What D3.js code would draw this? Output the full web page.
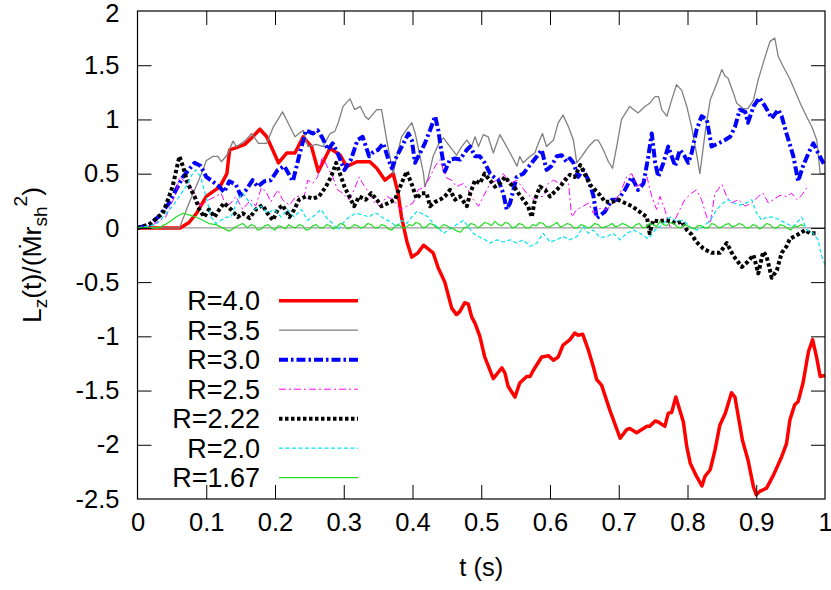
<!DOCTYPE html>
<html><head><meta charset="utf-8">
<script src="https://cdn.jsdelivr.net/npm/d3@7"></script>
<style>
html,body{margin:0;padding:0;background:#fff;}
text{font-family:"Liberation Sans",Arial,Helvetica,sans-serif;}
</style></head>
<body><svg id="chart" width="831" height="590"></svg>
<script>
// ---- data ----
const xTicks = [0,0.1,0.2,0.3,0.4,0.5,0.6,0.7,0.8,0.9,1];
const xTickLabels = ["0","0.1","0.2","0.3","0.4","0.5","0.6","0.7","0.8","0.9","1"];
const yTicks = [2,1.5,1,0.5,0,-0.5,-1,-1.5,-2,-2.5];
const yTickLabels = ["2","1.5","1","0.5","0","-0.5","-1","-1.5","-2","-2.5"];
const seriesNames = ["R=4.0","R=3.5","R=3.0","R=2.5","R=2.22","R=2.0","R=1.67"];

const r40 = [[0,0],[0.03,0],[0.062,0],[0.075,0.05],[0.086,0.135],[0.1,0.29],[0.12,0.38],[0.13,0.5],[0.134,0.72],[0.144,0.74],[0.156,0.77],[0.166,0.83],[0.178,0.91],[0.188,0.84],[0.205,0.60],[0.217,0.69],[0.229,0.69],[0.241,0.84],[0.253,0.75],[0.263,0.52],[0.28,0.735],[0.295,0.67],[0.304,0.565],[0.319,0.61],[0.338,0.61],[0.348,0.55],[0.36,0.44],[0.372,0.50],[0.379,0.32],[0.384,0.10],[0.392,-0.13],[0.399,-0.27],[0.408,-0.23],[0.416,-0.16],[0.43,-0.23],[0.4375,-0.37],[0.447,-0.50],[0.457,-0.74],[0.464,-0.80],[0.469,-0.77],[0.476,-0.69],[0.481,-0.70],[0.486,-0.82],[0.491,-0.88],[0.498,-1.00],[0.505,-1.19],[0.5175,-1.39],[0.53,-1.29],[0.5345,-1.34],[0.539,-1.46],[0.549,-1.56],[0.556,-1.43],[0.566,-1.37],[0.571,-1.37],[0.576,-1.31],[0.588,-1.19],[0.598,-1.18],[0.605,-1.22],[0.612,-1.19],[0.619,-1.08],[0.629,-1.03],[0.636,-0.97],[0.641,-0.99],[0.6475,-0.98],[0.656,-1.13],[0.663,-1.28],[0.668,-1.40],[0.675,-1.45],[0.687,-1.68],[0.702,-1.94],[0.7115,-1.86],[0.716,-1.85],[0.726,-1.89],[0.741,-1.83],[0.745,-1.83],[0.753,-1.78],[0.7575,-1.79],[0.767,-1.83],[0.772,-1.71],[0.777,-1.70],[0.783,-1.56],[0.794,-1.79],[0.799,-2.02],[0.804,-2.17],[0.813,-2.29],[0.821,-2.38],[0.8255,-2.29],[0.833,-2.23],[0.84,-2.05],[0.847,-1.82],[0.855,-1.71],[0.864,-1.52],[0.869,-1.56],[0.88,-1.96],[0.888,-2.14],[0.896,-2.39],[0.90,-2.46],[0.905,-2.43],[0.915,-2.40],[0.925,-2.28],[0.937,-2.11],[0.944,-1.99],[0.949,-1.77],[0.956,-1.63],[0.961,-1.60],[0.968,-1.43],[0.976,-1.14],[0.982,-1.03],[0.988,-1.20],[0.993,-1.37],[1.0,-1.36]];

const r35 = [[0,0],[0.061,0],[0.075,0.23],[0.095,0.53],[0.1,0.62],[0.11,0.66],[0.117,0.66],[0.122,0.61],[0.13,0.67],[0.139,0.80],[0.144,0.75],[0.156,0.80],[0.166,0.87],[0.176,0.78],[0.188,0.78],[0.1975,0.93],[0.211,1.07],[0.222,0.93],[0.229,0.84],[0.241,0.90],[0.248,0.75],[0.26,0.77],[0.27,0.75],[0.28,0.87],[0.287,0.89],[0.292,0.97],[0.299,1.12],[0.309,1.19],[0.316,1.09],[0.324,1.12],[0.331,1.03],[0.336,1.0],[0.348,1.09],[0.355,1.09],[0.3625,0.81],[0.372,0.50],[0.377,0.66],[0.384,0.84],[0.394,0.93],[0.399,0.97],[0.404,0.87],[0.408,0.75],[0.416,0.50],[0.418,0.38],[0.423,0.47],[0.43,0.66],[0.44,0.80],[0.445,0.83],[0.4545,0.75],[0.464,0.67],[0.4715,0.75],[0.479,0.81],[0.486,0.75],[0.491,0.84],[0.496,0.75],[0.503,0.86],[0.51,0.84],[0.5175,0.69],[0.527,0.86],[0.537,0.75],[0.547,0.63],[0.552,0.57],[0.556,0.66],[0.561,0.60],[0.571,0.66],[0.578,0.69],[0.583,0.78],[0.589,0.87],[0.595,0.75],[0.605,0.81],[0.612,0.97],[0.619,1.04],[0.627,0.93],[0.634,0.81],[0.639,0.60],[0.646,0.66],[0.656,0.75],[0.6655,0.81],[0.670,0.81],[0.6775,0.72],[0.685,0.61],[0.691,0.55],[0.697,0.75],[0.704,1.0],[0.716,1.12],[0.728,1.06],[0.738,1.12],[0.745,1.15],[0.753,1.21],[0.758,1.21],[0.7625,1.09],[0.77,1.03],[0.777,1.18],[0.784,1.32],[0.7915,1.27],[0.799,1.12],[0.806,0.93],[0.813,0.69],[0.818,0.50],[0.8255,0.87],[0.833,1.18],[0.8425,1.33],[0.85,1.46],[0.8545,1.40],[0.859,1.38],[0.867,1.24],[0.8715,1.15],[0.881,1.10],[0.888,1.10],[0.896,1.18],[0.903,1.37],[0.913,1.58],[0.92,1.72],[0.927,1.75],[0.932,1.58],[0.939,1.49],[0.949,1.37],[0.956,1.27],[0.964,1.15],[0.973,1.03],[0.981,0.93],[0.988,0.81],[0.993,0.50],[1.0,0.50]];

const r30 = [[0,0],[0.017,0.03],[0.03,0.1],[0.046,0.23],[0.066,0.47],[0.083,0.60],[0.092,0.57],[0.1,0.47],[0.109,0.43],[0.119,0.38],[0.126,0.33],[0.1335,0.43],[0.143,0.40],[0.15,0.30],[0.158,0.35],[0.1675,0.44],[0.175,0.38],[0.1845,0.43],[0.194,0.44],[0.204,0.535],[0.2135,0.57],[0.226,0.43],[0.235,0.66],[0.245,0.90],[0.255,0.87],[0.262,0.90],[0.269,0.83],[0.277,0.72],[0.284,0.78],[0.291,0.69],[0.301,0.535],[0.3105,0.63],[0.32,0.81],[0.3275,0.84],[0.337,0.66],[0.343,0.70],[0.35,0.72],[0.3575,0.78],[0.365,0.63],[0.37,0.55],[0.377,0.66],[0.387,0.78],[0.394,0.87],[0.399,0.81],[0.4036,0.60],[0.411,0.69],[0.418,0.78],[0.4255,0.90],[0.433,1.03],[0.4375,0.90],[0.4425,0.69],[0.447,0.52],[0.4545,0.63],[0.462,0.64],[0.469,0.63],[0.479,0.72],[0.484,0.75],[0.491,0.66],[0.498,0.66],[0.505,0.60],[0.513,0.50],[0.52,0.46],[0.525,0.44],[0.532,0.32],[0.537,0.17],[0.542,0.23],[0.5515,0.47],[0.561,0.50],[0.571,0.58],[0.581,0.66],[0.588,0.72],[0.595,0.535],[0.602,0.57],[0.61,0.66],[0.617,0.67],[0.624,0.61],[0.629,0.64],[0.634,0.60],[0.641,0.47],[0.6485,0.535],[0.656,0.44],[0.663,0.30],[0.668,0.09],[0.68,0.15],[0.69,0.26],[0.699,0.26],[0.709,0.35],[0.719,0.47],[0.728,0.35],[0.736,0.41],[0.743,0.66],[0.748,0.87],[0.753,0.60],[0.7575,0.47],[0.765,0.60],[0.772,0.75],[0.782,0.57],[0.789,0.72],[0.796,0.66],[0.801,0.60],[0.806,0.69],[0.813,0.90],[0.8205,1.03],[0.828,1.0],[0.835,0.75],[0.845,0.78],[0.8545,0.81],[0.862,0.84],[0.869,0.93],[0.876,1.09],[0.884,1.07],[0.888,0.97],[0.896,1.12],[0.9045,1.20],[0.913,1.12],[0.9225,1.01],[0.932,1.09],[0.937,1.03],[0.944,0.87],[0.954,0.66],[0.961,0.43],[0.968,0.57],[0.976,0.69],[0.983,0.78],[0.99,0.69],[1.0,0.57]];

const r25 = [[0,0],[0.02,0.02],[0.041,0.10],[0.056,0.32],[0.061,0.47],[0.068,0.43],[0.075,0.40],[0.085,0.29],[0.092,0.20],[0.104,0.26],[0.114,0.29],[0.1215,0.32],[0.129,0.20],[0.136,0.23],[0.143,0.29],[0.153,0.17],[0.165,0.26],[0.172,0.20],[0.18,0.37],[0.187,0.335],[0.194,0.24],[0.204,0.35],[0.211,0.26],[0.221,0.21],[0.2305,0.29],[0.2425,0.29],[0.2475,0.44],[0.255,0.41],[0.262,0.47],[0.269,0.66],[0.277,0.55],[0.284,0.47],[0.291,0.35],[0.2985,0.32],[0.308,0.26],[0.315,0.35],[0.3225,0.47],[0.3275,0.41],[0.337,0.32],[0.345,0.23],[0.3527,0.20],[0.3625,0.29],[0.372,0.26],[0.382,0.17],[0.3915,0.20],[0.401,0.23],[0.408,0.35],[0.418,0.38],[0.4255,0.47],[0.433,0.57],[0.44,0.63],[0.445,0.535],[0.45,0.46],[0.457,0.44],[0.464,0.38],[0.474,0.41],[0.481,0.35],[0.4885,0.26],[0.496,0.20],[0.503,0.29],[0.513,0.41],[0.5225,0.44],[0.532,0.50],[0.542,0.41],[0.5515,0.44],[0.559,0.38],[0.566,0.32],[0.576,0.26],[0.583,0.29],[0.59,0.29],[0.5975,0.41],[0.605,0.44],[0.6145,0.41],[0.622,0.47],[0.627,0.41],[0.6315,0.10],[0.639,0.17],[0.6485,0.20],[0.656,0.23],[0.663,0.135],[0.673,0.18],[0.6825,0.17],[0.692,0.23],[0.702,0.32],[0.7115,0.47],[0.719,0.50],[0.726,0.38],[0.733,0.41],[0.741,0.47],[0.748,0.29],[0.755,0.17],[0.76,0.29],[0.767,0.17],[0.7745,0.01],[0.779,0.04],[0.789,0.17],[0.796,0.26],[0.806,0.32],[0.813,0.35],[0.8205,0.26],[0.828,0.10],[0.833,0.04],[0.84,0.32],[0.85,0.40],[0.857,0.29],[0.864,0.23],[0.874,0.26],[0.884,0.20],[0.8935,0.23],[0.903,0.29],[0.91,0.32],[0.9175,0.23],[0.925,0.26],[0.9345,0.30],[0.944,0.29],[0.9515,0.32],[0.959,0.26],[0.966,0.30],[0.9735,0.37]];

const r222 = [[0,0],[0.017,0.03],[0.037,0.135],[0.051,0.38],[0.061,0.66],[0.066,0.57],[0.073,0.41],[0.083,0.29],[0.09,0.17],[0.097,0.10],[0.104,0.17],[0.112,0.10],[0.119,0.17],[0.126,0.23],[0.136,0.17],[0.146,0.10],[0.153,0.135],[0.163,0.09],[0.172,0.17],[0.182,0.21],[0.189,0.135],[0.197,0.07],[0.204,0.17],[0.211,0.21],[0.221,0.10],[0.228,0.17],[0.235,0.26],[0.245,0.29],[0.255,0.27],[0.264,0.29],[0.274,0.38],[0.2815,0.47],[0.289,0.60],[0.2945,0.50],[0.301,0.38],[0.308,0.29],[0.315,0.20],[0.3225,0.29],[0.332,0.26],[0.340,0.32],[0.348,0.26],[0.355,0.20],[0.365,0.23],[0.3745,0.26],[0.382,0.38],[0.3915,0.52],[0.399,0.40],[0.406,0.27],[0.413,0.32],[0.4205,0.32],[0.4255,0.20],[0.433,0.24],[0.44,0.26],[0.447,0.29],[0.4545,0.35],[0.462,0.26],[0.469,0.29],[0.479,0.20],[0.484,0.32],[0.491,0.44],[0.498,0.41],[0.505,0.50],[0.5125,0.44],[0.52,0.38],[0.527,0.41],[0.5345,0.47],[0.542,0.41],[0.549,0.37],[0.554,0.32],[0.561,0.26],[0.568,0.20],[0.5735,0.10],[0.578,0.26],[0.5855,0.38],[0.593,0.35],[0.6,0.29],[0.607,0.335],[0.6145,0.38],[0.622,0.44],[0.629,0.49],[0.636,0.47],[0.644,0.58],[0.651,0.49],[0.658,0.40],[0.6655,0.35],[0.673,0.30],[0.68,0.24],[0.69,0.24],[0.699,0.26],[0.709,0.23],[0.719,0.20],[0.726,0.17],[0.733,0.135],[0.741,0.10],[0.745,-0.05],[0.75,0.07],[0.7575,0.06],[0.767,0.07],[0.777,0.06],[0.784,0.04],[0.7915,0.06],[0.799,-0.02],[0.806,-0.06],[0.813,-0.13],[0.823,-0.19],[0.8255,-0.20],[0.835,-0.23],[0.847,-0.23],[0.857,-0.14],[0.867,-0.26],[0.879,-0.36],[0.888,-0.31],[0.896,-0.25],[0.903,-0.42],[0.91,-0.22],[0.915,-0.26],[0.9225,-0.46],[0.93,-0.39],[0.937,-0.23],[0.944,-0.17],[0.949,-0.10],[0.9585,-0.07],[0.971,-0.02],[0.978,-0.05],[0.99,-0.05]];

const r20 = [[0,0],[0.027,0.03],[0.051,0.20],[0.0705,0.38],[0.08,0.50],[0.085,0.535],[0.092,0.47],[0.097,0.35],[0.102,0.23],[0.107,0.10],[0.114,0.04],[0.1215,0.07],[0.129,0.10],[0.136,0.10],[0.146,0.26],[0.153,0.32],[0.16,0.26],[0.17,0.17],[0.18,0.20],[0.189,0.135],[0.199,0.17],[0.209,0.10],[0.218,0.17],[0.228,0.10],[0.238,0.17],[0.2475,0.07],[0.255,0.10],[0.267,0.17],[0.274,0.10],[0.284,0.04],[0.291,-0.02],[0.301,0.06],[0.308,0.10],[0.318,0.135],[0.3275,0.12],[0.337,0.10],[0.344,0.135],[0.348,0.135],[0.3575,0.09],[0.367,0.06],[0.377,0.01],[0.384,0.07],[0.3915,0.04],[0.399,0.10],[0.406,0.15],[0.413,0.135],[0.423,0.10],[0.43,0.04],[0.4375,0.0],[0.445,-0.05],[0.452,-0.02],[0.459,0.01],[0.4665,0.04],[0.474,0.07],[0.481,0.01],[0.4885,-0.05],[0.496,-0.08],[0.5055,-0.11],[0.513,-0.14],[0.5225,-0.11],[0.532,-0.13],[0.542,-0.11],[0.5515,-0.14],[0.561,-0.11],[0.571,-0.17],[0.581,-0.14],[0.59,-0.05],[0.6,-0.13],[0.61,-0.11],[0.619,-0.08],[0.629,-0.11],[0.639,-0.08],[0.6485,0.01],[0.656,-0.05],[0.663,-0.02],[0.673,-0.09],[0.6825,-0.08],[0.692,-0.05],[0.702,-0.11],[0.7115,-0.05],[0.721,-0.02],[0.731,-0.05],[0.743,-0.10],[0.753,-0.02],[0.765,0.04],[0.7745,0.10],[0.784,0.06],[0.794,0.07],[0.8035,0.01],[0.813,-0.02],[0.823,0.01],[0.833,0.07],[0.8425,0.17],[0.852,0.23],[0.859,0.26],[0.867,0.23],[0.876,0.21],[0.886,0.23],[0.8935,0.26],[0.9005,0.135],[0.908,0.07],[0.915,0.10],[0.925,0.10],[0.9345,0.07],[0.944,0.04],[0.954,0.01],[0.966,0.10],[0.9735,-0.02],[0.983,-0.05],[0.99,-0.11],[0.995,-0.26],[1.0,-0.34]];

const r167 = [[0,0],[0.03,0],[0.04,0.03],[0.05,0.07],[0.056,0.10],[0.066,0.135],[0.075,0.12],[0.085,0.10],[0.095,0.07],[0.104,0.04],[0.114,0.03],[0.124,0.0],[0.1335,-0.03],[0.143,0.01],[0.153,0.04],[0.16,0.0],[0.165,0.03],[0.17,0.02],[0.175,-0.02],[0.18,-0.01],[0.185,0.02],[0.19,0.03],[0.195,0.0],[0.2,-0.02],[0.205,0.02],[0.21,0.01],[0.215,-0.01],[0.22,0.03],[0.225,0.01],[0.23,0.0],[0.235,0.03],[0.24,0.02],[0.245,-0.02],[0.25,-0.01],[0.255,0.02],[0.26,0.03],[0.265,0.0],[0.27,0.0],[0.275,0.03],[0.28,0.02],[0.285,-0.01],[0.29,0.01],[0.295,0.04],[0.3,0.03],[0.305,-0.01],[0.31,0.0],[0.315,0.03],[0.32,0.02],[0.325,0.0],[0.33,0.01],[0.335,0.04],[0.34,0.03],[0.345,0.0],[0.35,0.0],[0.355,0.03],[0.36,0.02],[0.365,-0.01],[0.37,-0.02],[0.375,0.02],[0.38,0.03],[0.385,0.0],[0.39,0.0],[0.395,0.03],[0.40,0.02],[0.405,0.05],[0.41,0.04],[0.415,0.0],[0.42,0.01],[0.425,0.04],[0.43,0.03],[0.435,0.0],[0.44,0.0],[0.445,0.03],[0.45,0.02],[0.455,0.0],[0.46,-0.01],[0.465,-0.03],[0.47,-0.04],[0.475,0.0],[0.48,0.01],[0.485,0.04],[0.49,0.03],[0.495,0.0],[0.50,0.02],[0.505,0.05],[0.51,0.04],[0.515,0.02],[0.52,0.06],[0.525,0.03],[0.53,0.02],[0.535,0.05],[0.54,0.04],[0.545,0.0],[0.55,0.01],[0.555,0.04],[0.56,0.03],[0.565,0.0],[0.57,0.0],[0.575,0.03],[0.58,0.02],[0.585,0.05],[0.59,0.04],[0.595,0.01],[0.6,0.01],[0.605,0.03],[0.61,0.05],[0.615,0.01],[0.62,0.02],[0.625,0.04],[0.63,0.03],[0.635,0.0],[0.64,0.0],[0.645,0.03],[0.65,0.02],[0.655,0.0],[0.66,0.01],[0.665,0.04],[0.67,0.03],[0.675,0.0],[0.68,0.01],[0.685,0.02],[0.69,0.04],[0.695,0.01],[0.7,0.02],[0.705,0.04],[0.71,0.03],[0.715,0.01],[0.72,0.0],[0.725,0.03],[0.73,0.04],[0.735,0.0],[0.74,0.01],[0.745,0.04],[0.75,0.03],[0.755,0.01],[0.76,0.06],[0.765,0.03],[0.77,0.02],[0.775,0.05],[0.78,0.04],[0.785,0.01],[0.79,0.0],[0.795,0.03],[0.80,0.02],[0.805,0.0],[0.81,-0.01],[0.815,0.02],[0.82,0.02],[0.825,0.0],[0.83,0.0],[0.835,0.04],[0.84,0.03],[0.845,0.0],[0.85,0.01],[0.855,0.03],[0.86,0.04],[0.865,0.01],[0.87,0.02],[0.875,0.04],[0.88,0.03],[0.885,0.0],[0.89,0.0],[0.895,0.03],[0.9,0.02],[0.905,-0.01],[0.91,0.01],[0.915,0.04],[0.92,0.03],[0.925,0.0],[0.93,0.0],[0.935,0.03],[0.94,0.02],[0.945,0.0],[0.95,-0.02],[0.955,0.02],[0.96,0.01],[0.965,0.03],[0.97,0.02]];

const seriesData = [r40, r35, r30, r25, r222, r20, r167];
const seriesColors = ["#ff0000","#808080","#0000ff","#ff00ff","#000000","#00e5ee","#22dd22"];
const seriesWidths = [3.5,1.3,4,1,4,1.2,1.2];
const seriesDash = [null,null,"9,3,2.5,3",  "7,3,2,3", "3.5,2.5", "4,2.5", null];

// ---- layout ----
const svg = d3.select("#chart");
const L=137.5, R=825, T=11, B=499;
const x = d3.scaleLinear().domain([0,1]).range([L,R]);
const y = d3.scaleLinear().domain([-2.5,2]).range([B,T]);
const FS = 25.5;
const LFS = 27;

svg.append("defs").append("clipPath").attr("id","clip")
  .append("rect").attr("x",L).attr("y",T).attr("width",R-L).attr("height",B-T);

// zero axis
svg.append("line").attr("x1",x(0)).attr("x2",x(1)).attr("y1",y(0)).attr("y2",y(0))
  .attr("stroke","#808080").attr("stroke-width",1);

const line = d3.line().x(d=>x(d[0])).y(d=>y(d[1]));
const gLines = svg.append("g").attr("clip-path","url(#clip)");
seriesData.forEach((s,i)=>{
  gLines.append("path").attr("d",line(s)).attr("fill","none")
    .attr("stroke",seriesColors[i]).attr("stroke-width",seriesWidths[i])
    .attr("stroke-linejoin","round")
    .attr("stroke-dasharray",seriesDash[i]);
});

// axes
function styleAxis(g){
  g.selectAll(".domain").remove();
  g.selectAll(".tick line").attr("stroke","#000").attr("stroke-width",1);
  g.selectAll("text").attr("font-size",FS).attr("fill","#000")
   .style("font-family",'"Liberation Sans",Arial,sans-serif');
}
const xb = svg.append("g").attr("transform",`translate(0,${B})`)
  .call(d3.axisBottom(x).tickValues(xTicks).tickFormat((d,i)=>xTickLabels[i]).tickSize(-14).tickPadding(14));
styleAxis(xb);
const xt = svg.append("g").attr("transform",`translate(0,${T})`)
  .call(d3.axisTop(x).tickValues(xTicks.slice(1,-1)).tickFormat("").tickSize(-14));
styleAxis(xt);
const yl = svg.append("g").attr("transform",`translate(${L},0)`)
  .call(d3.axisLeft(y).tickValues(yTicks).tickFormat((d,i)=>yTickLabels[i]).tickSize(-14).tickPadding(18));
styleAxis(yl);
yl.selectAll(".tick text").filter(d=>d===2).attr("dy","0.40em");
yl.selectAll(".tick line").filter(d=>d===2||d===-2.5).remove();
const yr = svg.append("g").attr("transform",`translate(${R},0)`)
  .call(d3.axisRight(y).tickValues(yTicks.slice(1,-1)).tickFormat("").tickSize(-14));
styleAxis(yr);
xb.selectAll(".tick line").filter(d=>d===0||d===1).remove();

// frame
svg.append("rect").attr("x",L).attr("y",T).attr("width",R-L).attr("height",B-T)
  .attr("fill","none").attr("stroke","#000").attr("stroke-width",1.2);

// axis titles
svg.append("text").attr("x",(L+R)/2).attr("y",576).attr("text-anchor","middle")
  .attr("font-size",FS).text("t (s)");
const yt = svg.append("text").attr("transform",`translate(41,${(T+B)/2}) rotate(-90)`)
  .attr("text-anchor","middle").attr("font-size",FS+1);
yt.append("tspan").text("L");
yt.append("tspan").attr("dy",6).attr("font-size",(FS+1)*0.72).text("z");
yt.append("tspan").attr("dy",-6).text("(t)/(Ṁr");
yt.append("tspan").attr("dy",6).attr("font-size",(FS+1)*0.72).text("sh");
yt.append("tspan").attr("dy",-20).attr("font-size",(FS+1)*0.72).text("2");
yt.append("tspan").attr("dy",14).text(")");

// legend
const legY0 = 300.7, legDY = 29.5;
seriesNames.forEach((n,i)=>{
  const yy = legY0 + i*legDY;
  svg.append("text").attr("x",260).attr("y",yy).attr("dy","0.36em")
    .attr("text-anchor","end").attr("font-size",LFS).text(n);
  svg.append("line").attr("x1",279).attr("x2",358).attr("y1",yy).attr("y2",yy)
    .attr("stroke",seriesColors[i]).attr("stroke-width",seriesWidths[i])
    .attr("stroke-dasharray",seriesDash[i]);
});
</script></body></html>
